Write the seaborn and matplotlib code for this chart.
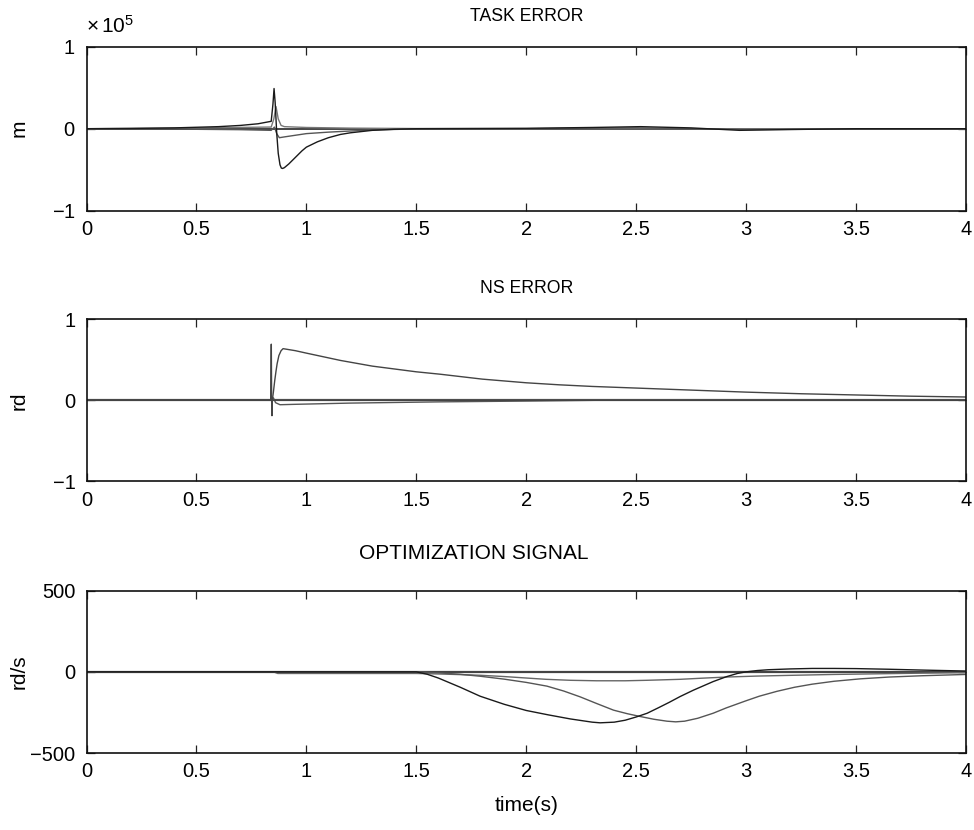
import matplotlib
matplotlib.use("Agg")
import matplotlib.pyplot as plt
import seaborn as sns
import pandas as pd

# ---------------- data ----------------
TASK_SCALE = 1e5
# TASK ERROR (values in units of 1e5 m)
task_black_t = [0, 0.2, 0.4, 0.6, 0.7, 0.78, 0.84, 0.848, 0.853, 0.858, 0.865, 0.872, 0.88, 0.886, 0.892,
                0.9, 0.92, 0.95, 0.98, 1.0, 1.05, 1.1, 1.155, 1.2, 1.3, 1.4, 1.5, 2.0, 2.3, 2.52, 2.75,
                2.97, 3.2, 3.5, 4.0]
task_black_v = [0, 0.003, 0.01, 0.025, 0.04, 0.06, 0.09, 0.3, 0.49, 0.32, -0.05, -0.3, -0.44, -0.48, -0.485,
                -0.475, -0.43, -0.35, -0.27, -0.225, -0.16, -0.11, -0.07, -0.05, -0.02, -0.007, 0, 0.005,
                0.015, 0.025, 0.01, -0.02, -0.01, 0, 0]
task_grey_t = [0, 0.4, 0.7, 0.84, 0.855, 0.865, 0.877, 0.9, 0.95, 1.0, 1.1, 1.2, 1.35, 1.5, 2.0, 2.5, 3.0, 4.0]
task_grey_v = [0, -0.005, -0.012, -0.02, 0.02, -0.06, -0.11, -0.1, -0.08, -0.06, -0.042, -0.028, -0.012,
               -0.003, 0, 0.01, -0.01, 0]
task_light_t = [0, 0.5, 0.84, 0.852, 0.862, 0.872, 0.885, 0.9, 1.0, 1.2, 1.5, 2.0, 4.0]
task_light_v = [0, 0.01, 0.02, 0.12, 0.27, 0.12, 0.04, 0.025, 0.015, 0.007, 0.002, 0, 0]
task_zero_t = [0, 4.0]
task_zero_v = [0, 0]

# NS ERROR (rd)
ns_main_t = [0, 0.84, 0.845, 0.85, 0.856, 0.862, 0.867, 0.875, 0.885, 0.894, 0.95, 1.0, 1.155, 1.3,
             1.5, 1.61, 1.8, 2.0, 2.15, 2.3, 2.5, 2.75, 3.0, 3.25, 3.5, 3.75, 4.0]
ns_main_v = [0, 0, 0, 0.1, 0.24, 0.36, 0.45, 0.55, 0.61, 0.635, 0.61, 0.58, 0.49, 0.42,
             0.35, 0.32, 0.26, 0.215, 0.19, 0.17, 0.15, 0.125, 0.10, 0.08, 0.065, 0.05, 0.04]
ns_spike_t = [0, 0.838, 0.8405, 0.842, 0.8435, 0.845, 4.0]
ns_spike_v = [0, 0, 0.69, 0, -0.19, 0, 0]
ns_neg_t = [0, 0.84, 0.85, 0.86, 0.88, 0.95, 1.2, 1.6, 2.0, 2.5, 3.0, 4.0]
ns_neg_v = [0, 0, 0.03, -0.03, -0.055, -0.05, -0.035, -0.02, -0.01, 0.005, 0.005, 0]
ns_zero_t = [0, 4.0]
ns_zero_v = [0, 0]

# OPTIMIZATION SIGNAL (rd/s)
opt_black_t = [0, 1.5, 1.55, 1.6, 1.7, 1.79, 1.9, 2.0, 2.1, 2.2, 2.3, 2.336, 2.4, 2.45, 2.5, 2.55, 2.6,
               2.65, 2.7, 2.76, 2.85, 2.91, 2.96, 3.0, 3.05, 3.1, 3.2, 3.3, 3.4, 3.5, 3.65, 3.8, 4.0]
opt_black_v = [0, 0, -15, -38, -95, -150, -200, -238, -265, -290, -310, -314, -310, -298, -278, -255, -222,
               -188, -152, -113, -60, -30, -10, 0, 8, 13, 18, 21, 21, 20, 16, 11, 5]
opt_grey_t = [0, 1.5, 1.6, 1.7, 1.79, 1.9, 2.0, 2.094, 2.17, 2.245, 2.32, 2.397, 2.46, 2.518, 2.58, 2.64,
              2.68, 2.72, 2.78, 2.85, 2.91, 3.0, 3.06, 3.14, 3.22, 3.3, 3.4, 3.52, 3.65, 3.8, 4.0]
opt_grey_v = [0, 0, -6, -15, -27, -45, -65, -88, -118, -154, -195, -236, -258, -275, -292, -304,
              -308, -304, -286, -255, -222, -178, -150, -120, -95, -76, -58, -43, -32, -24, -16]
opt_light_t = [0, 0.85, 0.87, 1.5, 1.6, 1.7, 1.79, 1.9, 2.0, 2.09, 2.2, 2.32, 2.45, 2.55, 2.7, 2.8, 2.91,
               3.05, 3.22, 3.4, 3.6, 3.8, 4.0]
opt_light_v = [0, 0, -10, -10, -13, -17, -21, -29, -38, -46, -52, -55, -55, -52, -46, -39, -32,
               -26, -21, -16, -12, -8, -5]
opt_zero_t = [0, 4.0]
opt_zero_v = [0, 0]

x_ticks = [0, 0.5, 1, 1.5, 2, 2.5, 3, 3.5, 4]
x_tick_labels = ["0", "0.5", "1", "1.5", "2", "2.5", "3", "3.5", "4"]
titles = ["TASK ERROR", "NS ERROR", "OPTIMIZATION SIGNAL"]
ylabels = ["m", "rd", "rd/s"]

# ---------------- style ----------------
sns.set_theme(style="ticks")
plt.rcParams["font.family"] = ["Liberation Sans", "DejaVu Sans"]
plt.rcParams.update({
    "xtick.direction": "in", "ytick.direction": "in",
    "xtick.top": True, "ytick.right": True,
    "xtick.major.size": 6, "ytick.major.size": 6,
    "xtick.major.width": 0.9, "ytick.major.width": 0.9,
    "xtick.color": "#222222", "ytick.color": "#222222",
    "xtick.labelcolor": "black", "ytick.labelcolor": "black",
    "axes.edgecolor": "#111111", "axes.linewidth": 1.2,
    "axes.labelcolor": "black", "text.color": "black",
    "font.size": 14,
    "mathtext.fontset": "custom",
    "mathtext.rm": "Liberation Sans",
    "mathtext.it": "Liberation Sans:italic",
    "mathtext.bf": "Liberation Sans:bold",
})

fig = plt.figure(figsize=(9.74, 8.30), dpi=100)
L, W = 86.5 / 974, (966 - 86.5) / 974
ax1 = fig.add_axes([L, 1 - 210.7 / 830, W, 164 / 830])
ax2 = fig.add_axes([L, 1 - 481.5 / 830, W, 162.5 / 830])
ax3 = fig.add_axes([L, 1 - 753 / 830, W, 162.3 / 830])


def draw(ax, t, v, color, lw=1.0, scale=1.0):
    df = pd.DataFrame({"t": t, "v": [x * scale for x in v]})
    sns.lineplot(data=df, x="t", y="v", ax=ax, color=color, lw=lw, estimator=None, sort=False)


draw(ax1, task_zero_t, task_zero_v, "#444444", 1.4, TASK_SCALE)
draw(ax1, task_light_t, task_light_v, "#777777", 1.0, TASK_SCALE)
draw(ax1, task_grey_t, task_grey_v, "#555555", 1.0, TASK_SCALE)
draw(ax1, task_black_t, task_black_v, "#1a1a1a", 1.0, TASK_SCALE)

draw(ax2, ns_zero_t, ns_zero_v, "#555555", 1.6)
draw(ax2, ns_neg_t, ns_neg_v, "#555555", 1.0)
draw(ax2, ns_spike_t, ns_spike_v, "#444444", 1.0)
draw(ax2, ns_main_t, ns_main_v, "#444444", 1.0)

draw(ax3, opt_zero_t, opt_zero_v, "#444444", 1.6)
draw(ax3, opt_light_t, opt_light_v, "#666666", 1.0)
draw(ax3, opt_grey_t, opt_grey_v, "#555555", 1.0)
draw(ax3, opt_black_t, opt_black_v, "#1a1a1a", 1.0)

ylims = [(-1e5, 1e5), (-1, 1), (-500, 500)]
yticks = [[-1e5, 0, 1e5], [-1, 0, 1], [-500, 0, 500]]
title_pads = [18.5, 18.5, 22.5]
title_sizes = [12.7, 12.7, 15.0]
title_x = [0.5, 0.5, 0.44]
for ax, title, yl, lim, yt, tp, ts, tx in zip([ax1, ax2, ax3], titles, ylabels, ylims, yticks,
                                              title_pads, title_sizes, title_x):
    ax.set_xlim(0, 4)
    ax.set_ylim(*lim)
    ax.set_xticks(x_ticks, labels=x_tick_labels)
    ax.set_yticks(yt)
    ax.tick_params(axis="x", labelsize=14.5, pad=6.5)
    ax.tick_params(axis="y", labelsize=14.5, pad=8)
    ax.set_title(title, fontsize=ts, pad=tp, x=tx, color="black")
    ax.set_ylabel(yl, fontsize=15)
    ax.yaxis.set_label_coords(-0.066, 0.5)
    ax.set_xlabel("")
    for s in ax.spines.values():
        s.set_visible(True)

ax1.ticklabel_format(axis="y", style="sci", scilimits=(0, 0), useMathText=True)
ax1.yaxis.get_offset_text().set_visible(False)
ax1.text(0.0, 1.084, r"$\times\,10^{5}$", transform=ax1.transAxes, fontsize=15,
         ha="left", va="baseline")
ax2.set_yticks([-1, 0, 1], labels=["\u22121", "0", "1"])
ax3.set_xlabel("time(s)", fontsize=15, labelpad=11)

fig.savefig("out.png", dpi=100)
